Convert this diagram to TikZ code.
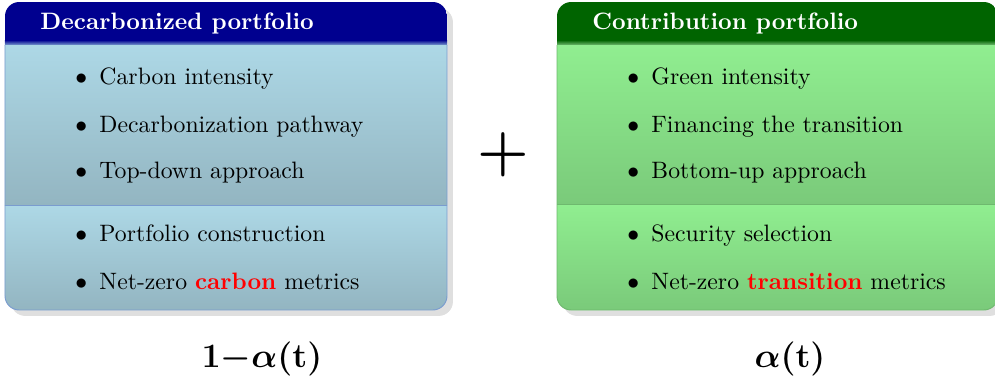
\documentclass[tikz,border=0pt]{standalone}
\usepackage{bm}
\usetikzlibrary{shadows}
\definecolor{blocknavy}{RGB}{0,0,143}
\definecolor{blockblue}{RGB}{173,216,230}
\definecolor{blockblueb}{RGB}{147,181,193}
\definecolor{blueedge}{RGB}{122,156,207}
\definecolor{blockgreen}{RGB}{0,100,0}
\definecolor{blockgr}{RGB}{144,238,144}
\definecolor{blockgrb}{RGB}{122,202,122}
\definecolor{greenedge}{RGB}{110,185,110}
\tikzset{
  itemtext/.style={anchor=base west, inner sep=0pt},
  blocktitle/.style={anchor=base west, inner sep=0pt, text=white, font=\bfseries},
  weight/.style={font=\Large}
}

\begin{document}
\begin{tikzpicture}[x=0.4216pt, y=-0.4216pt]
  \useasboundingbox (0,0) rectangle (995,384);
  % decarbonized block
  \path[rounded corners=6pt, fill=white, drop shadow={shadow xshift=2.5pt, shadow yshift=-2.5pt, opacity=0.25}] (5,2) rectangle (447,310);
  \begin{scope}
    \clip[rounded corners=6pt] (5,2) rectangle (447,310);
    \fill[blocknavy] (5,2) rectangle (447,40);
    \shade[top color=blocknavy, bottom color=blueedge] (5,40) rectangle (447,45);
    \shade[top color=blockblue, bottom color=blockblueb] (5,45) rectangle (447,205);
    \shade[top color=blockblue, bottom color=blockblueb] (5,205) rectangle (447,310);
  \end{scope}
  \draw[blueedge, rounded corners=6pt] (5,45) -- (5,310) -- (447,310) -- (447,45);
  \draw[blueedge] (5,205) -- (447,205);
  \node[blocktitle] (dtitle) at (40,29) {Decarbonized portfolio};
  \node[itemtext] (db1) at (75,84) {$\bullet$};
  \node[itemtext] (dt1) at (99,84) {Carbon intensity};
  \node[itemtext] (db2) at (75,132) {$\bullet$};
  \node[itemtext] (dt2) at (99,132) {Decarbonization pathway};
  \node[itemtext] (db3) at (75,179) {$\bullet$};
  \node[itemtext] (dt3) at (99,179) {Top-down approach};
  \node[itemtext] (db4) at (75,242) {$\bullet$};
  \node[itemtext] (dt4) at (99,242) {Portfolio construction};
  \node[itemtext] (db5) at (75,289) {$\bullet$};
  \node[itemtext] (dt5) at (99,289) {Net-zero \textcolor{red}{\textbf{carbon}} metrics};

  % contribution block
  \path[rounded corners=6pt, fill=white, drop shadow={shadow xshift=2.5pt, shadow yshift=-2.5pt, opacity=0.25}] (557,2) rectangle (998,310);
  \begin{scope}
    \clip[rounded corners=6pt] (557,2) rectangle (998,310);
    \fill[blockgreen] (557,2) rectangle (998,40);
    \shade[top color=blockgreen, bottom color=greenedge] (557,40) rectangle (998,45);
    \shade[top color=blockgr, bottom color=blockgrb] (557,45) rectangle (998,204);
    \shade[top color=blockgr, bottom color=blockgrb] (557,204) rectangle (998,310);
  \end{scope}
  \draw[greenedge, rounded corners=6pt] (557,45) -- (557,310) -- (998,310) -- (998,45);
  \draw[greenedge] (557,204) -- (998,204);
  \node[blocktitle] (ctitle) at (592,29) {Contribution portfolio};
  \node[itemtext] (cb1) at (627,84) {$\bullet$};
  \node[itemtext] (ct1) at (651,84) {Green intensity};
  \node[itemtext] (cb2) at (627,132) {$\bullet$};
  \node[itemtext] (ct2) at (651,132) {Financing the transition};
  \node[itemtext] (cb3) at (627,179) {$\bullet$};
  \node[itemtext] (ct3) at (651,179) {Bottom-up approach};
  \node[itemtext] (cb4) at (627,242) {$\bullet$};
  \node[itemtext] (ct4) at (651,242) {Security selection};
  \node[itemtext] (cb5) at (627,289) {$\bullet$};
  \node[itemtext] (ct5) at (651,289) {Net-zero \textcolor{red}{\textbf{transition}} metrics};

  % weights
  \node[font=\Huge] (plus) at (503,155) {$\bm{+}$};
  \node[weight] (wdecarb) at (262,359) {$\bm{1{-}\alpha(\mathbf{t})}$};
  \node[weight] (wcontrib) at (790,359) {$\bm{\alpha(\mathbf{t})}$};
\end{tikzpicture}
\end{document}
